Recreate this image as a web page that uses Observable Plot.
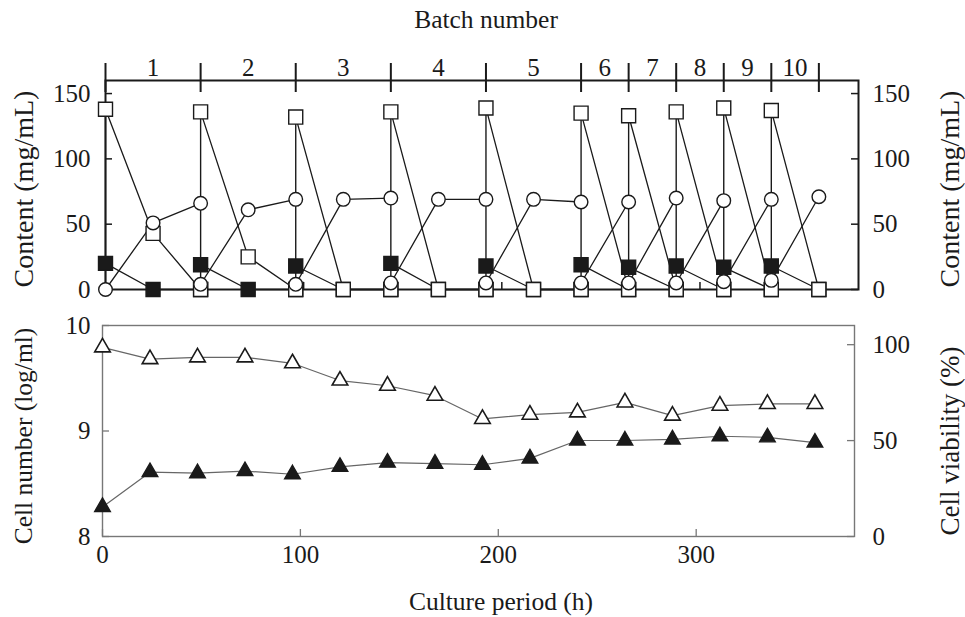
<!DOCTYPE html>
<html><head><meta charset="utf-8">
<script src="https://cdn.jsdelivr.net/npm/d3@7"></script>
<script src="https://cdn.jsdelivr.net/npm/@observablehq/plot@0.6"></script>
<style>
body{margin:0;background:#fff;}
#wrap{position:relative;width:965px;height:617px;overflow:hidden;background:#fff;font-family:"Liberation Serif","Times New Roman",Times,"DejaVu Serif",serif;color:#1a1a1a}
#wrap svg{position:absolute;left:0;overflow:visible;background:transparent}
#wrap svg text{font-family:"Liberation Serif","Times New Roman",Times,"DejaVu Serif",serif}
.t{position:absolute;white-space:nowrap;transform:translate(-50%,-50%);line-height:1}
.r{transform:translate(-50%,-50%) rotate(-90deg)}
</style></head><body><div id="wrap"></div>
<script>
// ---- Top panel data (content, mg/mL) ----
const tTop = [0,24,48, 48,72,96, 96,120,144, 144,168,192, 192,216,240, 240,264, 264,288, 288,312, 312,336, 336,360];
const batchOf = [1,1,1, 2,2,2, 3,3,3, 4,4,4, 5,5,5, 6,6, 7,7, 8,8, 9,9, 10,10];
const openSquare = [138,43,0, 136,25,0, 132,0,0, 136,0,0, 139,0,0, 135,0, 133,0, 136,0, 139,0, 137,0];
const openCircle = [0,51,66, 4,61,69, 4,69,70, 5,69,69, 5,69,67, 5,67, 5,70, 5,68, 6,69, 7,71];
const filledSquare = [20,0,0, 19,0,0, 18,0,0, 20,0,0, 18,0,0, 19,0, 17,0, 18,0, 17,0, 18,0];
const batchNo = [1,2,3,4,5,6,7,8,9,10];
const batchBounds = [0,48,96,144,192,240,264,288,312,336,360];
const contentTicks = [0,50,100,150];

// ---- Bottom panel data ----
const hours = [0,24,48,72,96,120,144,168,192,216,240,264,288,312,336,360];
const cellNumber = [8.28,8.61,8.60,8.62,8.59,8.66,8.70,8.69,8.68,8.74,8.91,8.91,8.92,8.95,8.94,8.89];
const viability = [98.6,92.5,93.4,93.4,90.3,81.3,78.6,73.4,61.3,63.5,64.7,69.9,63.0,68.2,69.1,69.1];
const cellTicks = [8,9,10];
const viabTicks = [0,50,100];
const hourTicks = [0,100,200,300];

const ink = "#1a1a1a";
const FONT = '"Liberation Serif","Times New Roman",Times,"DejaVu Serif",serif';
const rows = tTop.map((t,i)=>({t, batch:batchOf[i], sq:openSquare[i], ci:openCircle[i], fs:filledSquare[i]}));
const starts = batchBounds.slice(0,-1).map(t=>{
  const v = rows.filter(r=>r.t===t).flatMap(r=>[r.sq,r.ci,r.fs]);
  return {t, lo:d3.min(v), hi:d3.max(v)};
});
const batchMid = batchNo.map((b,i)=>({b, x:(batchBounds[i]+batchBounds[i+1])/2}));

const W = 965;
const TOP = {h:305, ml:105, mr:107, mt:80, mb:16};
const FWT = W-TOP.ml-TOP.mr, FHT = TOP.h-TOP.mt-TOP.mb;
const style = {fontFamily:FONT, fontSize:"25px", background:"transparent", color:ink, overflow:"visible"};

const topPlot = Plot.plot({
  width:W, height:TOP.h, marginLeft:TOP.ml, marginRight:TOP.mr, marginTop:TOP.mt, marginBottom:TOP.mb,
  x:{domain:[0,380], axis:null}, y:{domain:[0,160], axis:null}, style,
  marks:[
    Plot.ruleX(starts, {x:"t", y1:"lo", y2:"hi", stroke:ink, strokeWidth:1.4}),
    Plot.line(rows, {x:"t", y:"sq", z:"batch", stroke:ink, strokeWidth:1.3}),
    Plot.line(rows, {x:"t", y:"ci", z:"batch", stroke:ink, strokeWidth:1.3}),
    Plot.line(rows, {x:"t", y:"fs", z:"batch", stroke:ink, strokeWidth:1.3}),
    Plot.frame({stroke:ink, strokeWidth:2}),
    Plot.tickY(contentTicks, {y:d=>d, insetRight:FWT-7, stroke:ink, strokeWidth:1.5}),
    Plot.tickY(contentTicks, {y:d=>d, insetLeft:FWT-7, stroke:ink, strokeWidth:1.5}),
    Plot.tickX(hourTicks, {x:d=>d, insetTop:FHT-7, stroke:ink, strokeWidth:1.5}),
    Plot.ruleX(batchBounds, {x:d=>d, insetTop:-17, insetBottom:FHT-12, stroke:ink, strokeWidth:2}),
    Plot.text(batchMid, {x:"x", text:d=>String(d.b), frameAnchor:"top", lineAnchor:"bottom", dy:-5, fill:ink}),
    Plot.axisY(contentTicks, {anchor:"left", tickSize:0, tickPadding:15, label:null}),
    Plot.axisY(contentTicks, {anchor:"right", tickSize:0, tickPadding:14, label:null}),
    Plot.dot(rows, {x:"t", y:"fs", symbol:"square", r:7.9, fill:ink, stroke:ink, strokeWidth:1.4}),
    Plot.dot(rows, {x:"t", y:"sq", symbol:"square", r:7.9, fill:"white", stroke:ink, strokeWidth:1.4}),
    Plot.dot(rows, {x:"t", y:"ci", r:6.8, fill:"white", stroke:ink, strokeWidth:1.4})
  ]
});

const BOT = {top:305, h:312, ml:102, mr:111, mt:20, mb:81};
const FWB = W-BOT.ml-BOT.mr, FHB = BOT.h-BOT.mt-BOT.mb;
const toLeft = v => 8 + v*2/110;
const bRows = hours.map((h,i)=>({h, cell:cellNumber[i], via:toLeft(viability[i])}));
const grey = "#777";

const botPlot = Plot.plot({
  width:W, height:BOT.h, marginLeft:BOT.ml, marginRight:BOT.mr, marginTop:BOT.mt, marginBottom:BOT.mb,
  x:{domain:[0,380], axis:null}, y:{domain:[8,10], axis:null}, style,
  marks:[
    Plot.frame({stroke:grey, strokeWidth:1.4}),
    Plot.tickY(cellTicks, {y:d=>d, insetRight:FWB-7, stroke:grey, strokeWidth:1.3}),
    Plot.tickY(viabTicks.map(toLeft), {y:d=>d, insetLeft:FWB-7, stroke:grey, strokeWidth:1.3}),
    Plot.tickX(hourTicks, {x:d=>d, insetTop:FHB-7, stroke:grey, strokeWidth:1.3}),
    Plot.axisY(cellTicks, {anchor:"left", tickSize:0, tickPadding:12, label:null, tickFormat:d=>String(d)}),
    Plot.axisY(viabTicks.map(toLeft), {anchor:"right", tickSize:0, tickPadding:18, label:null, tickFormat:d=>String(Math.round((d-8)*110/2))}),
    Plot.axisX(hourTicks, {anchor:"bottom", tickSize:0, tickPadding:9, label:null}),
    Plot.line(bRows, {x:"h", y:"via", stroke:"#666", strokeWidth:1.2}),
    Plot.line(bRows, {x:"h", y:"cell", stroke:"#666", strokeWidth:1.2}),
    Plot.dot(bRows, {x:"h", y:"via", symbol:"triangle", r:5.8, fill:"white", stroke:ink, strokeWidth:1.6}),
    Plot.dot(bRows, {x:"h", y:"cell", symbol:"triangle", r:5.8, fill:ink, stroke:ink, strokeWidth:1.4})
  ]
});

const wrap = document.getElementById("wrap");
topPlot.style.top = "0px";
botPlot.style.top = BOT.top + "px";
wrap.appendChild(botPlot);
wrap.appendChild(topPlot);

function label(text, x, y, size, rot){
  const d = document.createElement("div");
  d.className = "t" + (rot ? " r" : "");
  d.textContent = text;
  d.style.left = x + "px"; d.style.top = y + "px"; d.style.fontSize = size + "px";
  wrap.appendChild(d);
}
label("Batch number", 486, 20, 25.5, false);
label("Culture period (h)", 501, 602, 25.5, false);
label("Content (mg/mL)", 24, 189, 28, true);
label("Content (mg/mL)", 950, 189, 28, true);
label("Cell number (log/ml)", 24, 436, 25.5, true);
label("Cell viability (%)", 950, 441, 27, true);
</script></body></html>
